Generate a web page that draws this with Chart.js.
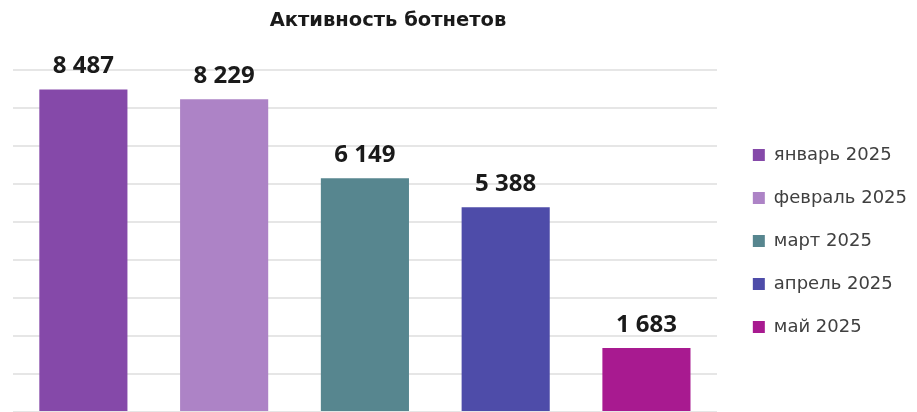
<!DOCTYPE html>
<html lang="ru">
<head>
<meta charset="utf-8">
<title>Активность ботнетов</title>
<script src="https://cdn.jsdelivr.net/npm/chart.js@4.4.1/dist/chart.umd.min.js"></script>
<style>
    html, body { margin: 0; padding: 0; background: #ffffff; overflow: hidden; }
    .wrap { position: relative; width: 917px; height: 420px; }
</style>
</head>
<body>
<div class="wrap"><canvas id="botChart"></canvas></div>
<script>
/* Активность ботнетов — bar chart by month */

const months = ['январь 2025', 'февраль 2025', 'март 2025', 'апрель 2025', 'май 2025'];
const botnetActivity = [8487, 8229, 6149, 5388, 1683];
const barColors = ['#8549a9', '#ad83c6', '#57868f', '#4e4ca9', '#a81a90'];
const chartTitle = 'Активность ботнетов';

const LABEL_FONT = "'Open Sans', 'DejaVu Sans', sans-serif";
const TEXT_FONT = "'DejaVu Sans', sans-serif";

// "8487" -> "8 487"
const fmt = v => String(v).replace(/\B(?=(\d{3})+(?!\d))/g, ' ');

// ── Title drawn over the plot area (offset from canvas center) ────────────
const titlePlugin = {
    id: 'plotTitle',
    afterDraw(chart) {
        const ctx = chart.ctx;
        ctx.save();
        ctx.font = `bold 19.5px ${TEXT_FONT}`;
        ctx.fillStyle = '#1a1a1a';
        ctx.textAlign = 'center';
        ctx.textBaseline = 'alphabetic';
        ctx.fillText(chartTitle, 388, 26);
        ctx.restore();
    }
};

// ── Value labels above bars ───────────────────────────────────────────────
const valueLabels = {
    id: 'valueLabels',
    afterDatasetsDraw(chart) {
        const ctx = chart.ctx;
        const meta = chart.getDatasetMeta(0);
        ctx.save();
        ctx.font = `bold 24px ${LABEL_FONT}`;
        ctx.fillStyle = '#1a1a1a';
        ctx.textAlign = 'center';
        ctx.textBaseline = 'alphabetic';
        meta.data.forEach((bar, i) => {
            ctx.fillText(fmt(chart.data.datasets[0].data[i]), bar.x, bar.y - 16);
        });
        ctx.restore();
    }
};

new Chart(document.getElementById('botChart'), {
    type: 'bar',
    data: {
        labels: months,
        datasets: [{
            label: chartTitle,
            data: botnetActivity,
            backgroundColor: barColors,
            borderWidth: 0,
            barPercentage: 0.626,
            categoryPercentage: 1
        }]
    },
    options: {
        responsive: true,
        maintainAspectRatio: false,
        animation: false,
        layout: { padding: { top: 70, bottom: 8, left: 13, right: 0 } },
        plugins: {
            title: { display: false },
            tooltip: { enabled: false },
            legend: {
                position: 'right',
                maxWidth: 190,
                labels: {
                    font: { family: TEXT_FONT, size: 18 },
                    color: '#404040',
                    boxWidth: 12,
                    boxHeight: 12,
                    padding: 25,
                    generateLabels: chart => months.map((m, i) => ({
                        text: m,
                        fillStyle: barColors[i],
                        strokeStyle: barColors[i],
                        lineWidth: 0,
                        fontColor: '#404040',
                        index: i
                    }))
                }
            }
        },
        scales: {
            x: { display: false },
            y: {
                position: 'right',
                min: 0,
                max: 9000,
                ticks: { display: false, stepSize: 1000 },
                border: { display: false },
                grid: {
                    color: '#e6e6e6',
                    lineWidth: 2,
                    drawTicks: true,
                    tickLength: 11,
                    tickColor: 'rgba(0,0,0,0)'
                }
            }
        }
    },
    plugins: [valueLabels, titlePlugin]
});
</script>
</body>
</html>
